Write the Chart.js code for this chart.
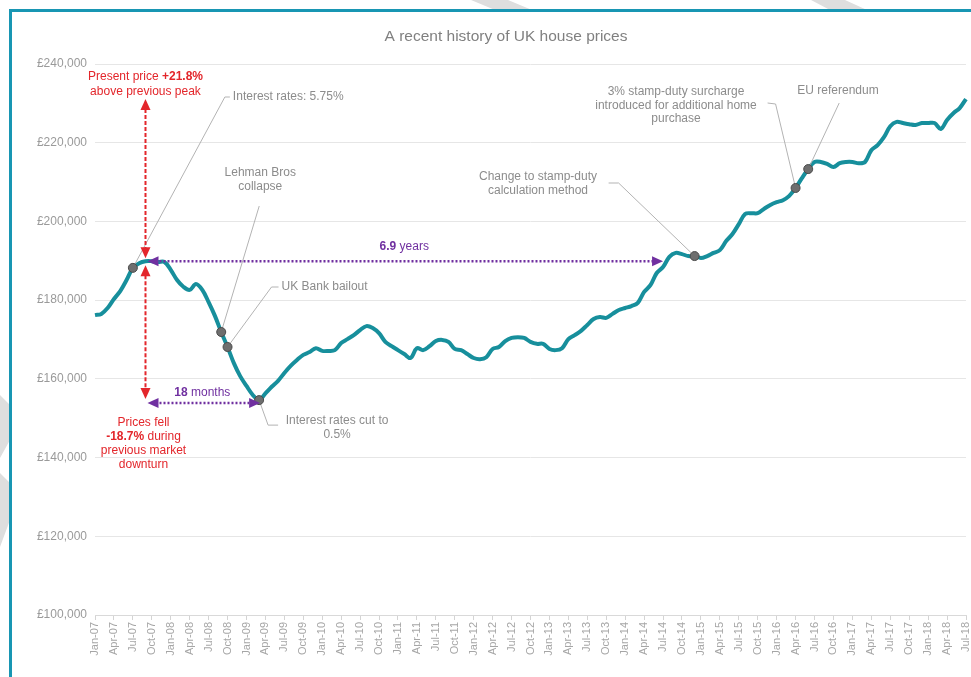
<!DOCTYPE html>
<html>
<head>
<meta charset="utf-8">
<title>A recent history of UK house prices</title>
<script src="https://cdn.jsdelivr.net/npm/chart.js@4.4.1/dist/chart.umd.min.js"></script>
<style>
  html, body { margin: 0; padding: 0; background: #fff; overflow: hidden; }
  #wrap { position: relative; width: 971px; height: 677px; }
  .wedge { position: absolute; background: #dedede; }
  #frame { position: absolute; left: 9px; top: 9px; width: 1100px; height: 800px;
           border: 3px solid #1896b3; box-sizing: border-box; }
  canvas { position: absolute; left: 0; top: 0; }
</style>
</head>
<body>
<div id="wrap">
  <div class="wedge" style="left:0;top:0;width:971px;height:10px;clip-path:polygon(471px 0,508px 0,532px 10px,495px 10px,471px 0,811px 0,845px 0,867px 10px,830px 10px,811px 0)"></div>
  <div class="wedge" style="left:0;top:0;width:10px;height:677px;clip-path:polygon(0 395px,10px 405px,10px 440px,0 458px,0 473px,10px 483px,10px 520px,0 547px)"></div>
  <div id="frame"></div>
  <canvas id="chart1" width="971" height="677"></canvas>
</div>
<script>
// Datos del gráfico
const years = ['07', '08', '09', '10', '11', '12', '13', '14', '15', '16', '17', '18'];
const monthNames = ['Jan', 'Feb', 'Mar', 'Apr', 'May', 'Jun', 'Jul', 'Aug', 'Sep', 'Oct', 'Nov', 'Dec'];

// precio medio mensual, Jan-07 .. Jul-18
const prices = [
  176200, 176500, 178000, 180300, 182300, 185100, 188200, 189400, 189900, 189900, 189700, 189700,
  187700, 185100, 183400, 182600, 184100, 182600, 179500, 176000, 171900, 168100, 164000, 160700,
  158200, 155900, 154600, 156300, 158000, 159500, 161500, 163300, 164800, 166100, 166800, 167800,
  167100, 167100, 167300, 169100, 170100, 171100, 172400, 173400, 172900, 171600, 169400, 168300,
  167300, 166300, 165300, 167800, 167300, 168300, 169600, 169900, 169400, 167600, 167300, 166300,
  165300, 165000, 165500, 167600, 168100, 169600, 170400, 170600, 170400, 169400, 168900, 168900,
  167600, 167300, 167800, 170100, 171100, 172200, 173700, 175200, 175700, 175500, 176500, 177500,
  178000, 178500, 179300, 182100, 183800, 186900, 188400, 191000, 192000, 191700, 191200, 191200,
  190700, 191200, 192000, 192700, 195000, 196800, 199300, 201900, 202100, 202100, 203200, 204200,
  204900, 205400, 206500, 208500, 211000, 213300, 215100, 215100, 214600, 213800, 214800, 215100,
  215100, 214800, 215100, 218100, 219400, 221400, 224200, 225300, 225000, 224700, 224500, 225000,
  225000, 225000, 223500, 225800, 227500, 228800, 231100
];

// eventos marcados en la línea (índice del mes)
const eventMonths = [6, 20, 21, 26, 95, 111, 113];
const eventTexts = [
  ['Interest rates: 5.75%'],
  ['Lehman Bros', 'collapse'],
  ['UK Bank bailout'],
  ['Interest rates cut to', '0.5%'],
  ['Change to stamp-duty', 'calculation method'],
  ['3% stamp-duty surcharge', 'introduced for additional home', 'purchase'],
  ['EU referendum']
];

const peakMonth = 8;
const troughMonth = 26;
const recoveryMonth = 90;

const yTicks = [100000, 120000, 140000, 160000, 180000, 200000, 220000, 240000];

const monthLabels = [];
years.forEach(yy => monthNames.forEach(m => monthLabels.push(m + '-' + yy)));
monthLabels.length = prices.length;

const FONT = '"Liberation Sans", Arial, sans-serif';
const GREY_TXT = '#8c8c8c';
const RED = '#e3262b';
const PURPLE = '#7030a0';

// texto con partes en negrita, centrado
function richText(ctx, parts, cx, cy, size) {
  let total = 0;
  parts.forEach(p => {
    ctx.font = (p[1] ? 'bold ' : '') + size + 'px ' + FONT;
    total += ctx.measureText(p[0]).width;
  });
  let x = cx - total / 2;
  ctx.textAlign = 'left';
  parts.forEach(p => {
    ctx.font = (p[1] ? 'bold ' : '') + size + 'px ' + FONT;
    ctx.fillText(p[0], x, cy);
    x += ctx.measureText(p[0]).width;
  });
}

function arrowHead(ctx, tx, ty, dx, dy, len, half) {
  // punta en (tx,ty), apuntando en dirección (dx,dy)
  const bx = tx - dx * len, by = ty - dy * len;
  ctx.beginPath();
  ctx.moveTo(tx, ty);
  ctx.lineTo(bx - dy * half, by + dx * half);
  ctx.lineTo(bx + dy * half, by - dx * half);
  ctx.closePath();
  ctx.fill();
}

const annotations = {
  id: 'annotations',
  afterDatasetsDraw(chart) {
    const ctx = chart.ctx;
    const xs = chart.scales.x, ys = chart.scales.y;
    const px = i => xs.getPixelForValue(i);
    const py = v => ys.getPixelForValue(v);
    ctx.save();

    // título
    ctx.fillStyle = '#808080';
    ctx.font = '15.5px ' + FONT;
    ctx.textAlign = 'center';
    ctx.textBaseline = 'middle';
    ctx.fillText('A recent history of UK house prices', 506, 37);

    const peakX = px(peakMonth);
    const peakY = py(prices[peakMonth]);
    const troughY = py(prices[troughMonth]);
    const nowY = py(prices[prices.length - 1]);

    // líneas guía de los eventos
    const pts = eventMonths.map(i => ({ x: px(i), y: py(prices[i]) }));
    const leaders = [
      [[pts[0].x, pts[0].y], [pts[0].x + 92, 97], [pts[0].x + 97, 97]],
      [[pts[1].x, pts[1].y], [pts[1].x + 38, pts[1].y - 126]],
      [[pts[2].x, pts[2].y], [pts[2].x + 44, 287], [pts[2].x + 51, 287]],
      [[pts[3].x, pts[3].y], [pts[3].x + 9, pts[3].y + 25], [pts[3].x + 19, pts[3].y + 25]],
      [[pts[4].x, pts[4].y], [pts[4].x - 76, 183], [pts[4].x - 86, 183]],
      [[pts[5].x, pts[5].y], [pts[5].x - 20, 104], [pts[5].x - 28, 103]],
      [[pts[6].x, pts[6].y], [pts[6].x + 31, 103]]
    ];
    ctx.strokeStyle = '#b3b3b3';
    ctx.lineWidth = 1;
    leaders.forEach(path => {
      ctx.beginPath();
      path.forEach((p, k) => k ? ctx.lineTo(p[0], p[1]) : ctx.moveTo(p[0], p[1]));
      ctx.stroke();
    });

    // textos de los eventos
    const textPos = [
      [pts[0].x + 100, 97, 'left'],
      [pts[1].x + 39, 173, 'center'],
      [pts[2].x + 54, 287, 'left'],
      [pts[3].x + 78, pts[3].y + 21, 'center'],
      [538, 177, 'center'],
      [676, 92, 'center'],
      [838, 91, 'center']
    ];
    ctx.fillStyle = GREY_TXT;
    ctx.font = '12px ' + FONT;
    ctx.textBaseline = 'middle';
    eventTexts.forEach((lines, k) => {
      const [tx, ty, al] = textPos[k];
      ctx.textAlign = al;
      lines.forEach((ln, j) => ctx.fillText(ln, tx, ty + j * 13.5));
    });

    // marcadores
    pts.forEach(p => {
      ctx.beginPath();
      ctx.arc(p.x, p.y, 4.5, 0, Math.PI * 2);
      ctx.fillStyle = '#6e6e6e';
      ctx.fill();
      ctx.strokeStyle = '#4a4a4a';
      ctx.lineWidth = 1;
      ctx.stroke();
    });

    // flechas rojas
    ctx.strokeStyle = RED;
    ctx.fillStyle = RED;
    ctx.lineWidth = 2;
    ctx.setLineDash([4, 2]);
    ctx.beginPath();
    ctx.moveTo(peakX, nowY + 10);
    ctx.lineTo(peakX, peakY - 12);
    ctx.moveTo(peakX, peakY + 14);
    ctx.lineTo(peakX, troughY - 12);
    ctx.stroke();
    ctx.setLineDash([]);
    arrowHead(ctx, peakX, nowY, 0, -1, 11, 5);
    arrowHead(ctx, peakX, peakY - 3, 0, 1, 11, 5);
    arrowHead(ctx, peakX, peakY + 4, 0, -1, 11, 5);
    arrowHead(ctx, peakX, troughY - 1, 0, 1, 11, 5);

    ctx.textBaseline = 'middle';
    richText(ctx, [['Present price ', false], ['+21.8%', true]], peakX, nowY - 22, 12);
    richText(ctx, [['above previous peak', false]], peakX, nowY - 7, 12);
    richText(ctx, [['Prices fell', false]], peakX - 2, troughY + 23, 12);
    richText(ctx, [['-18.7%', true], [' during', false]], peakX - 2, troughY + 37, 12);
    richText(ctx, [['previous market', false]], peakX - 2, troughY + 51, 12);
    richText(ctx, [['downturn', false]], peakX - 2, troughY + 65, 12);

    // flechas moradas
    const recX = px(recoveryMonth);
    const bottomX = px(troughMonth);
    const lowY = troughY + 3;
    ctx.strokeStyle = PURPLE;
    ctx.fillStyle = PURPLE;
    ctx.lineWidth = 2.5;
    ctx.setLineDash([2, 2]);
    ctx.beginPath();
    ctx.moveTo(peakX + 10, peakY);
    ctx.lineTo(recX - 10, peakY);
    ctx.moveTo(peakX + 10, lowY);
    ctx.lineTo(bottomX - 10, lowY);
    ctx.stroke();
    ctx.setLineDash([]);
    arrowHead(ctx, peakX + 2, peakY, -1, 0, 11, 5);
    arrowHead(ctx, recX, peakY, 1, 0, 11, 5);
    arrowHead(ctx, peakX + 2, lowY, -1, 0, 11, 5);
    arrowHead(ctx, bottomX + 1, lowY, 1, 0, 11, 5);

    richText(ctx, [['6.9', true], [' years', false]], (peakX + recX) / 2, peakY - 14, 12);
    richText(ctx, [['18', true], [' months', false]], (peakX + bottomX) / 2, lowY - 10, 12);

    ctx.restore();
  }
};

document.addEventListener('DOMContentLoaded', function () {
  const ctx1 = document.getElementById('chart1').getContext('2d');

  new Chart(ctx1, {
    type: 'line',
    data: {
      labels: monthLabels,
      datasets: [{
        label: 'Average house price',
        data: prices,
        borderColor: '#178f9c',
        borderWidth: 4,
        pointRadius: 0,
        tension: 0.35,
        fill: false
      }]
    },
    options: {
      responsive: false,
      animation: false,
      layout: { padding: { left: 0, right: 5, top: 64, bottom: 8 } },
      plugins: {
        legend: { display: false },
        title: { display: false },
        tooltip: { enabled: false }
      },
      scales: {
        x: {
          grid: { drawOnChartArea: false, drawTicks: true, tickLength: 5, color: '#d4d4d4' },
          border: { color: '#d9d9d9' },
          ticks: {
            autoSkip: false,
            minRotation: 90,
            maxRotation: 90,
            padding: 2,
            color: '#a6a6a6',
            font: { size: 11, family: FONT },
            callback: (v, i) => (i % 3 === 0 ? monthLabels[i] : null)
          },
          afterFit: s => { s.height = 54; s.paddingRight = 0; s.paddingLeft = 0; }
        },
        y: {
          min: yTicks[0],
          max: yTicks[yTicks.length - 1],
          afterBuildTicks: s => { s.ticks = yTicks.map(v => ({ value: v })); },
          ticks: {
            padding: 8,
            color: '#9a9a9a',
            font: { size: 12, family: FONT },
            callback: v => '£' + v.toLocaleString('en-GB')
          },
          grid: { color: '#e6e6e6', drawTicks: false },
          border: { display: false },
          afterFit: s => { s.width = 95; }
        }
      }
    },
    plugins: [annotations]
  });
});
</script>
</body>
</html>
